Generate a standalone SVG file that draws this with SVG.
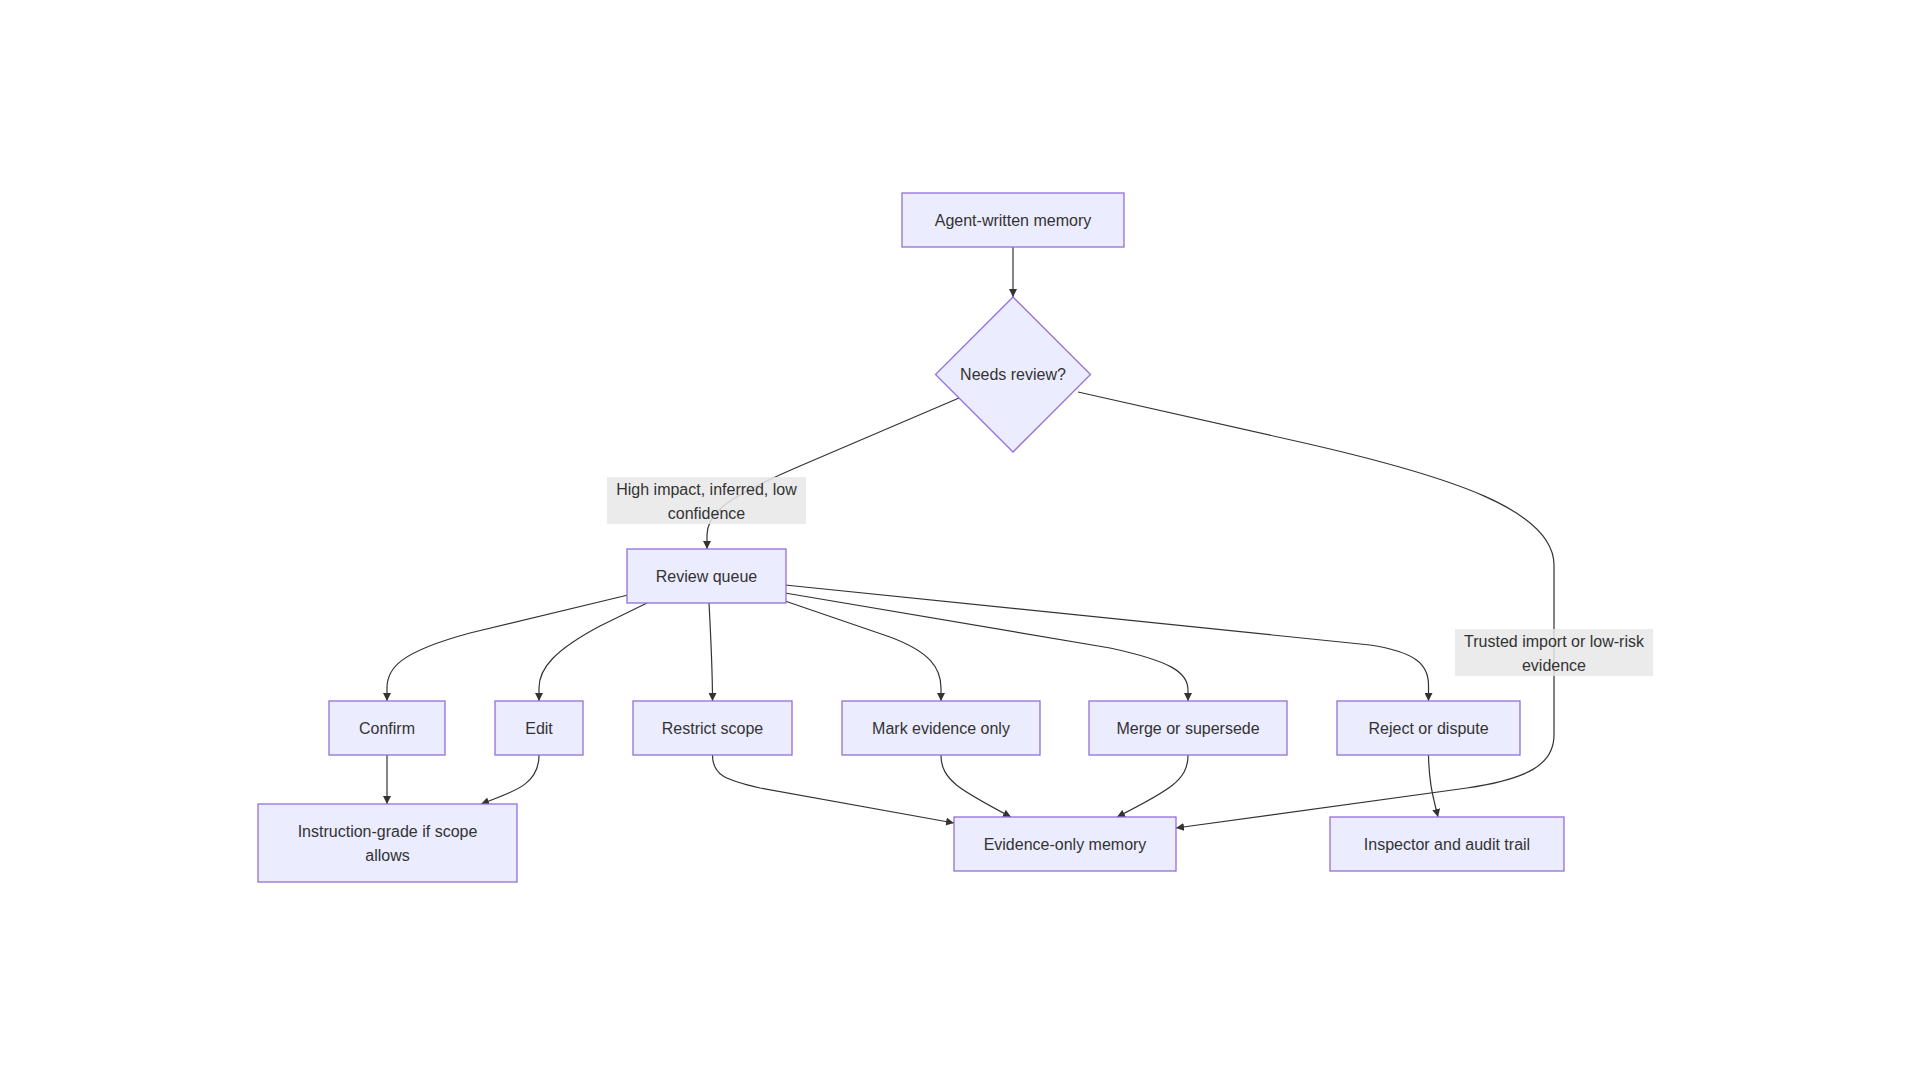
<svg xmlns="http://www.w3.org/2000/svg" width="1920" height="1080" viewBox="0 0 1920 1080">
<defs>
<marker id="arrow" viewBox="0 0 10 10" refX="10" refY="5" markerWidth="8" markerHeight="8" markerUnits="userSpaceOnUse" orient="auto">
<path d="M0,0 L10,5 L0,10 z" fill="#333333"/>
</marker>
<style>
.node rect, .node polygon { fill: #ECECFF; stroke: #9370DB; stroke-width: 1.3; }
.lbl { fill: #333333; font-family: "Liberation Sans", Arial, sans-serif; font-size: 16px; text-anchor: middle; dominant-baseline: central; }
.edge { fill: none; stroke: #333333; stroke-width: 1.2; }
.elbg { fill: #e8e8e8; opacity: 0.85; }
</style>
</defs>
<rect width="1920" height="1080" fill="#ffffff"/>
<g id="connectors">
<path class="edge" d="M1013,247 L1013,297" marker-end="url(#arrow)"/>
<path class="edge" d="M959,398 L800,466 C735,494 707,510 707,535 L707,549" marker-end="url(#arrow)"/>
<path class="edge" d="M1078,392 L1300,442 C1450,476 1554,510 1554,565 L1554,735 C1554,765 1527,779 1467,788 L1176,828" marker-end="url(#arrow)"/>
<path class="edge" d="M628,595 L470,633 C400,652 387,668 387,688 L387,701" marker-end="url(#arrow)"/>
<path class="edge" d="M647,603 L600,626 C555,650 539,668 539,688 L539,701" marker-end="url(#arrow)"/>
<path class="edge" d="M709,603 C711,640 712.5,670 712.5,701" marker-end="url(#arrow)"/>
<path class="edge" d="M785,601 L890,637 C930,652 941,668 941,688 L941,701" marker-end="url(#arrow)"/>
<path class="edge" d="M785,593 L1110,648 C1170,661 1188,672 1188,690 L1188,701" marker-end="url(#arrow)"/>
<path class="edge" d="M785,585 L1370,645 C1415,652 1428.5,664 1428.5,685 L1428.5,701" marker-end="url(#arrow)"/>
<path class="edge" d="M387,755 L387,804" marker-end="url(#arrow)"/>
<path class="edge" d="M539,755 C539,782 520,790 481,804" marker-end="url(#arrow)"/>
<path class="edge" d="M712.5,755 C712.5,775 725,780 760,788 L954,823" marker-end="url(#arrow)"/>
<path class="edge" d="M941,755 C941,780 960,790 1011,817" marker-end="url(#arrow)"/>
<path class="edge" d="M1188,755 C1188,780 1170,790 1117,817" marker-end="url(#arrow)"/>
<path class="edge" d="M1428.5,755 C1429,785 1434,800 1438,817" marker-end="url(#arrow)"/>
</g>
<g id="edge-label-1">
<rect class="elbg" x="607" y="477" width="199" height="47"/>
<text class="lbl" x="706.5" y="489">High impact, inferred, low</text>
<text class="lbl" x="706.5" y="513">confidence</text>
</g>
<g id="edge-label-2">
<rect class="elbg" x="1455" y="629" width="198" height="47"/>
<text class="lbl" x="1554" y="641">Trusted import or low-risk</text>
<text class="lbl" x="1554" y="665">evidence</text>
</g>
<g id="agent" class="node">
<rect x="902" y="193" width="222" height="54"/>
<text class="lbl" x="1013" y="220">Agent-written memory</text>
</g>
<g id="needs-review" class="node">
<polygon points="1013,297 1090.5,374.5 1013,452 935.5,374.5"/>
<text class="lbl" x="1013" y="374.5">Needs review?</text>
</g>
<g id="review-queue" class="node">
<rect x="627" y="549" width="159" height="54"/>
<text class="lbl" x="706.5" y="576">Review queue</text>
</g>
<g id="confirm" class="node">
<rect x="329" y="701" width="116" height="54"/>
<text class="lbl" x="387" y="728">Confirm</text>
</g>
<g id="edit" class="node">
<rect x="495" y="701" width="88" height="54"/>
<text class="lbl" x="539" y="728">Edit</text>
</g>
<g id="restrict-scope" class="node">
<rect x="633" y="701" width="159" height="54"/>
<text class="lbl" x="712.5" y="728">Restrict scope</text>
</g>
<g id="mark-evidence" class="node">
<rect x="842" y="701" width="198" height="54"/>
<text class="lbl" x="941" y="728">Mark evidence only</text>
</g>
<g id="merge" class="node">
<rect x="1089" y="701" width="198" height="54"/>
<text class="lbl" x="1188" y="728">Merge or supersede</text>
</g>
<g id="reject" class="node">
<rect x="1337" y="701" width="183" height="54"/>
<text class="lbl" x="1428.5" y="728">Reject or dispute</text>
</g>
<g id="instruction-grade" class="node">
<rect x="258" y="804" width="259" height="78"/>
<text class="lbl" x="387.5" y="831">Instruction-grade if scope</text>
<text class="lbl" x="387.5" y="855">allows</text>
</g>
<g id="evidence-only" class="node">
<rect x="954" y="817" width="222" height="54"/>
<text class="lbl" x="1065" y="844">Evidence-only memory</text>
</g>
<g id="inspector" class="node">
<rect x="1330" y="817" width="234" height="54"/>
<text class="lbl" x="1447" y="844">Inspector and audit trail</text>
</g>
</svg>
